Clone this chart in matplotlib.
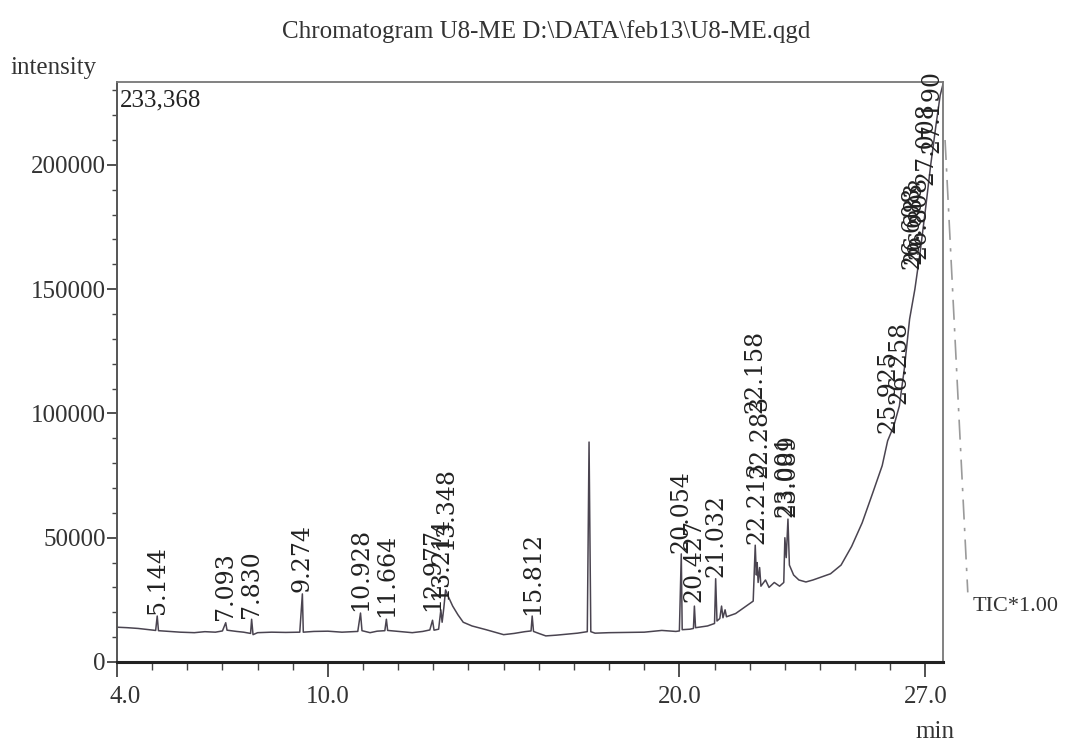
import matplotlib
matplotlib.use("Agg")
import matplotlib.pyplot as plt
import matplotlib.transforms as mtransforms
from matplotlib.ticker import MultipleLocator, FixedLocator
from matplotlib.lines import Line2D

# ---- data ----
rt = [4.00, 4.30, 4.60, 4.90, 5.10, 5.144, 5.18, 5.40, 5.80, 6.20, 6.50, 6.80, 7.00, 7.093, 7.13,
      7.40, 7.60, 7.80, 7.83, 7.87, 8.00, 8.40, 8.80, 9.20, 9.274, 9.30, 9.60, 10.00, 10.40, 10.85,
      10.928, 10.97, 11.20, 11.40, 11.62, 11.664, 11.70, 12.00, 12.40, 12.70, 12.90, 12.977, 13.02,
      13.15, 13.214, 13.25, 13.30, 13.348, 13.42, 13.55, 13.70, 13.85, 14.10, 14.50, 14.80, 15.00,
      15.30, 15.60, 15.78, 15.812, 15.85, 16.00, 16.20, 16.50, 16.80, 17.10, 17.38, 17.43, 17.48,
      17.60, 18.00, 18.50, 19.00, 19.50, 19.90, 20.00, 20.054, 20.08, 20.30, 20.40, 20.427, 20.46,
      20.80, 21.00, 21.032, 21.07, 21.15, 21.20, 21.24, 21.30, 21.34, 21.60, 21.90, 22.10, 22.158,
      22.19, 22.213, 22.24, 22.283, 22.32, 22.45, 22.55, 22.70, 22.85, 22.97, 23.001, 23.04, 23.089,
      23.13, 23.25, 23.40, 23.60, 23.80, 24.00, 24.30, 24.60, 24.90, 25.20, 25.50, 25.77, 25.925,
      26.10, 26.258, 26.40, 26.55, 26.70, 26.85, 27.00, 27.15, 27.30, 27.42, 27.50]
tic = [14000, 13800, 13500, 13000, 12700, 18500, 12600, 12400, 12000, 11800, 12200, 12000, 12500, 15800, 12800,
       12300, 12000, 11500, 17200, 11000, 11800, 12000, 11900, 12000, 27400, 12000, 12300, 12400, 12000, 12300,
       19700, 12600, 11800, 12400, 12600, 17200, 12700, 12300, 11800, 12300, 12900, 16800, 12800,
       13200, 21000, 16000, 22000, 29000, 26500, 22500, 19000, 16000, 14500, 13000, 11800, 11000,
       11500, 12200, 12500, 18500, 12300, 11500, 10500, 10800, 11200, 11600, 12200, 88500, 12200,
       11600, 11800, 11900, 12000, 12700, 12300, 12500, 43500, 13000, 13200, 13500, 22500, 13800,
       14500, 15500, 33500, 16500, 17500, 22500, 17800, 21000, 18200, 19500, 22500, 24500, 47000,
       35000, 40000, 32000, 38000, 30500, 33000, 30000, 32000, 30500, 32000, 50000, 42000, 57500,
       39000, 35000, 33000, 32200, 33000, 34000, 35500, 39000, 46500, 56000, 68000, 79000, 89000,
       95000, 103000, 118000, 138000, 150000, 165000, 182000, 200000, 216000, 228000, 232500]

peak_rt = [5.144, 7.093, 7.830, 9.274, 10.928, 11.664, 12.977, 13.214, 13.348, 15.812,
           20.054, 20.427, 21.032, 22.213, 22.283, 22.158, 23.001, 23.089,
           25.925, 26.258, 26.608, 26.683, 26.808, 27.008, 27.190]
peak_label_level = [19500, 16800, 17800, 28000, 20500, 18000, 20500, 25000, 45000, 19000,
                    44000, 24000, 34000, 47500, 74000, 100000, 58500, 58500,
                    92000, 104000, 158000, 160000, 162000, 192000, 205000]

x_ticks = [4.0, 10.0, 20.0, 27.0]
y_ticks = [0, 50000, 100000, 150000, 200000]
y_max = 233368

# ---- figure ----
serif = ["Liberation Serif", "DejaVu Serif"]
plt.rcParams["font.family"] = serif
fig = plt.figure(figsize=(10.67, 7.44), dpi=100)
ax = fig.add_axes([117 / 1067, 1 - 662 / 744, (943 - 117) / 1067, (662 - 82) / 744])

ax.plot(rt, tic, color="#4a4450", lw=1.1)
ax.set_xlim(4.0, 27.5)
ax.set_ylim(0, y_max)

ax.xaxis.set_major_locator(FixedLocator(x_ticks))
ax.set_xticklabels([f"{v:.1f}" for v in x_ticks])
ax.xaxis.set_minor_locator(MultipleLocator(1.0))
ax.yaxis.set_major_locator(FixedLocator(y_ticks))
ax.set_yticklabels([str(v) for v in y_ticks])
ax.yaxis.set_minor_locator(MultipleLocator(10000))

ax.tick_params(axis="x", which="major", length=11, width=1.2, direction="out",
               labelsize=18, pad=6, colors="#333333")
ax.tick_params(axis="x", which="minor", length=6, width=1.0, direction="out", color="#444444")
ax.tick_params(axis="y", which="major", length=7, width=1.2, direction="out",
               labelsize=18, pad=1, colors="#333333")
ax.tick_params(axis="y", which="minor", length=3.5, width=1.0, direction="out", color="#444444")

# first x tick label sits a little right of its tick in the reference
first = ax.get_xticklabels()[0]
first.set_transform(first.get_transform() + mtransforms.ScaledTranslation(8 / 100, 0, fig.dpi_scale_trans))

for side in ["top", "right"]:
    ax.spines[side].set_color("#777777")
    ax.spines[side].set_linewidth(1.3)
ax.spines["left"].set_color("#555555")
ax.spines["left"].set_linewidth(1.4)
ax.spines["bottom"].set_color("#222222")
ax.spines["bottom"].set_linewidth(2.2)

# peak labels
for t, lvl in zip(peak_rt, peak_label_level):
    ax.text(t, lvl, f"{t:.3f}", rotation=90, ha="center", va="bottom",
            fontsize=17, family=["DejaVu Serif"], color="#222222")

# texts
fig.text(0.512, 0.958, r"Chromatogram U8-ME D:\DATA\feb13\U8-ME.qgd", ha="center", va="center",
         fontsize=18, color="#333333")
fig.text(10 / 1067, 1 - 68 / 744, "intensity", ha="left", va="center", fontsize=18, color="#333333")
ax.text(0.004, 0.969, f"{y_max:,}", transform=ax.transAxes, ha="left", va="center",
        fontsize=18, color="#222222")
fig.text(935 / 1067, 1 - 732 / 744, "min", ha="center", va="center", fontsize=18, color="#333333")
ax.text(1.036, 0.095, "TIC*1.00", transform=ax.transAxes, ha="left", va="center",
        fontsize=16, color="#333333")

# dashed marker line at right of frame
ax.add_line(Line2D([1.0025, 1.030], [0.90, 0.12], transform=ax.transAxes, clip_on=False,
                   color="#9a9a9a", lw=1.2, dashes=(12, 5, 2, 5)))

fig.savefig("out.png", dpi=100)
